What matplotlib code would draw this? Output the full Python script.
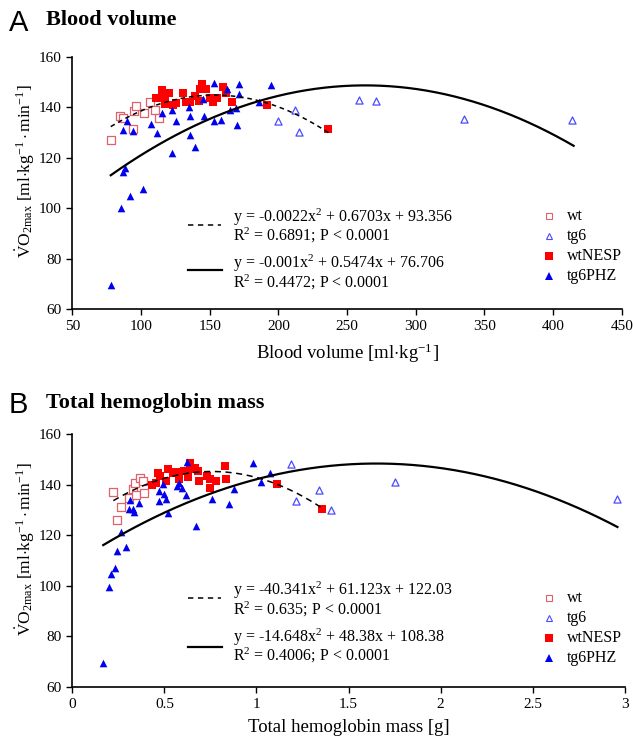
import numpy as np
import matplotlib
matplotlib.use("Agg")
import matplotlib.pyplot as plt
from matplotlib.lines import Line2D

plt.rcParams['font.family'] = ['Liberation Serif', 'DejaVu Serif']
plt.rcParams['mathtext.fontset'] = 'custom'
plt.rcParams['mathtext.rm'] = 'Liberation Serif'
plt.rcParams['mathtext.it'] = 'Liberation Serif:italic'
plt.rcParams['mathtext.bf'] = 'Liberation Serif:bold'

# ---- Panel A: blood volume [ml/kg] vs VO2max ----
wt_bv = [78, 85, 87, 95, 96.5, 94, 102, 106.5, 110, 113]
wt_vo_a = [127, 136.4, 135.7, 138.7, 140.5, 131.4, 137.8, 142, 138.9, 135.8]

tg6_bv = [200, 212, 215, 259, 271, 335, 414]
tg6_vo_a = [134.7, 138.9, 130.1, 142.8, 142.5, 135.4, 135]

wtnesp_bv = [115.5, 111, 114, 117.5, 120.5, 117.5, 123, 125.5, 130.5, 133, 136, 139,
             142, 143, 144.5, 147, 150, 152.5, 155.5, 159.5, 162, 166.5, 191.5, 236.5]
wtnesp_vo_a = [147, 143.9, 143.9, 144.6, 145.6, 141.2, 141.1, 141.7, 145.9, 142.2, 142.2, 144.6,
               142.6, 147.2, 149.1, 147.2, 143.9, 142.2, 143.9, 147.9, 145.9, 142.2, 140.9, 131.4]

tg6phz_bv = [78, 85.5, 92, 101.5, 87, 88.5, 87, 89.5, 94, 107, 112, 115.5, 122.5, 122.5, 125.5, 135,
             135.5, 135.5, 139, 145, 146, 153.5, 153.5, 158, 162.5, 164.5, 169.5, 170, 171.5, 171.5,
             186, 195]
tg6phz_vo_a = [69.7, 100.2, 104.8, 107.5, 114.4, 115.9, 131.2, 134.5, 130.5, 133.3, 129.9, 137.8,
               138.9, 122, 134.7, 140, 136.7, 129.2, 124.2, 143.5, 136.4, 149.6, 134.7, 135, 147.5,
               138.9, 139.9, 133, 149.2, 145.4, 142, 148.8]

# quadratic trendlines (a, b, c) and their x ranges
fit_a_wt = [-0.00218, 0.6703, 93.356]
fit_a_wt_range = [78, 237]
fit_a_tg = [-0.00104, 0.5474, 76.706]
fit_a_tg_range = [78, 415]
eq_a = ["y = -0.0022x$^2$ + 0.6703x + 93.356\nR$^2$ = 0.6891; P < 0.0001",
        "y = -0.001x$^2$ + 0.5474x + 76.706\nR$^2$ = 0.4472; P < 0.0001"]

# ---- Panel B: total hemoglobin mass [g] vs VO2max ----
wt_hb = [0.223, 0.245, 0.263, 0.308, 0.328, 0.343, 0.346, 0.365, 0.383, 0.39]
wt_vo_b = [137, 126.1, 131.1, 134.6, 138.2, 140.5, 135.8, 142.5, 141.3, 136.6]

tg6_hb = [1.186, 1.213, 1.337, 1.404, 1.754, 2.957]
tg6_vo_b = [148.2, 133.7, 138, 130.1, 141.1, 134.5]

wtnesp_hb = [0.435, 0.454, 0.463, 0.477, 0.51, 0.521, 0.546, 0.564, 0.577, 0.604, 0.628, 0.637,
             0.641, 0.668, 0.681, 0.686, 0.732, 0.746, 0.75, 0.782, 0.828, 0.837, 1.113, 1.358]
wtnesp_vo_b = [139.9, 140.5, 144.5, 143.5, 141.4, 146.1, 144.5, 145.1, 142.2, 145.4, 142.9, 148.4,
               146.2, 146.7, 145.5, 141.6, 143.4, 138.8, 142.1, 141.6, 147.5, 142.4, 140.3, 130.3]

tg6phz_hb = [0.168, 0.201, 0.209, 0.234, 0.245, 0.266, 0.292, 0.31, 0.314, 0.328, 0.337, 0.361,
             0.47, 0.472, 0.49, 0.499, 0.508, 0.517, 0.568, 0.582, 0.597, 0.619, 0.623, 0.67,
             0.759, 0.85, 0.877, 0.98, 1.026, 1.071]
tg6phz_vo_b = [69.5, 99.5, 104.6, 107.2, 113.9, 121.2, 115.5, 130.3, 134, 130.4, 129.1, 132.9,
               137.5, 133.7, 140.3, 136.2, 134.2, 128.7, 139.5, 140.5, 138.6, 135.9, 149.1, 123.7,
               134.3, 132.4, 138.4, 148.7, 140.9, 144.5]

fit_b_wt = [-40.341, 61.123, 122.03]
fit_b_wt_range = [0.223, 1.363]
fit_b_tg = [-14.648, 48.38, 108.38]
fit_b_tg_range = [0.168, 2.96]
eq_b = ["y = -40.341x$^2$ + 61.123x + 122.03\nR$^2$ = 0.635; P < 0.0001",
        "y = -14.648x$^2$ + 48.38x + 108.38\nR$^2$ = 0.4006; P < 0.0001"]

groups = ["wt", "tg6", "wtNESP", "tg6PHZ"]

W, H = 633, 746
fig = plt.figure(figsize=(W / 100, H / 100), dpi=100)

PINK = '#e0606c'
LBLUE = '#4a4aff'
RED = '#ff0000'
BLUE = '#0000ee'


def fx(px):
    return px / W


def fy(py):
    return 1 - py / H


def style_axes(ax, xlim, xticks, xticklabels, xlabel):
    for s in ['top', 'right']:
        ax.spines[s].set_visible(False)
    for s in ['left', 'bottom']:
        ax.spines[s].set_linewidth(1.2)
    ax.set_xlim(*xlim)
    ax.set_ylim(60, 160)
    ax.set_xticks(xticks)
    ax.set_xticklabels(xticklabels)
    ax.set_yticks([60, 80, 100, 120, 140, 160])
    ax.tick_params(direction='out', length=4, width=1, labelsize=11, pad=4)
    ax.set_xlabel(xlabel, fontsize=13.5, labelpad=6)
    ax.set_ylabel(r'$\dot{\mathrm{V}}\mathrm{O}_{2\mathrm{max}}$ [ml$\cdot$kg$^{-1}\cdot$min$^{-1}$]',
                  fontsize=12.5)
    ax.yaxis.set_label_coords(-0.064, 0.545)


def draw_panel(ax, data, fits, eqs, eq_rows, leg_top):
    (wx, wy), (tx, ty), (nx, ny), (px_, py_) = data
    ax.scatter(wx, wy, marker='s', s=26, facecolors='white', edgecolors=PINK, linewidths=0.9, zorder=3)
    ax.scatter(tx, ty, marker='^', s=26, facecolors='white', edgecolors=LBLUE, linewidths=0.9, zorder=3)
    ax.scatter(nx, ny, marker='s', s=30, color=RED, linewidths=0, zorder=4)
    ax.scatter(px_, py_, marker='^', s=30, color=BLUE, linewidths=0, zorder=4)
    (c1, r1, ls1), (c2, r2, ls2) = fits
    xs = np.linspace(r1[0], r1[1], 200)
    ax.plot(xs, np.polyval(c1, xs), color='black', lw=1.1, linestyle=ls1, zorder=5)
    xs = np.linspace(r2[0], r2[1], 300)
    ax.plot(xs, np.polyval(c2, xs), color='black', lw=1.6, zorder=5)

    # equation block: two-line text per fit, with a line sample to the left
    t1, t2, yd, ys = eq_rows
    fig.text(fx(233), fy(t1), eqs[0], fontsize=11.5, va='center', linespacing=0.9)
    fig.text(fx(233), fy(t2), eqs[1], fontsize=11.5, va='center', linespacing=0.9)
    fig.add_artist(Line2D([fx(188), fx(221)], [fy(yd)] * 2, color='black', lw=1.1,
                          linestyle=(0, (3.5, 3)), transform=fig.transFigure))
    fig.add_artist(Line2D([fx(188), fx(222)], [fy(ys)] * 2, color='black', lw=1.6,
                          transform=fig.transFigure))

    # group key
    styles = [dict(marker='s', mfc='white', mec=PINK, ms=5, mew=0.8),
              dict(marker='^', mfc='white', mec=LBLUE, ms=5, mew=0.8),
              dict(marker='s', mfc=RED, mec=RED, ms=6, mew=0),
              dict(marker='^', mfc=BLUE, mec=BLUE, ms=6, mew=0)]
    for i, (g, st) in enumerate(zip(groups, styles)):
        yy = fy(leg_top + i * 20)
        fig.add_artist(Line2D([fx(549)], [yy], linestyle='none', transform=fig.transFigure, **st))
        fig.text(fx(567), yy, g, fontsize=11.5, va='center')


# Panel A
axA = fig.add_axes([fx(72.3), fy(309), fx(621.7) - fx(72.3), fy(57) - fy(309)])
style_axes(axA, (50, 450), list(range(50, 451, 50)), [str(v) for v in range(50, 451, 50)],
           r'Blood volume [ml$\cdot$kg$^{-1}$]')
draw_panel(axA,
           [(wt_bv, wt_vo_a), (tg6_bv, tg6_vo_a), (wtnesp_bv, wtnesp_vo_a), (tg6phz_bv, tg6phz_vo_a)],
           [(fit_a_wt, fit_a_wt_range, (0, (3, 2.5))), (fit_a_tg, fit_a_tg_range, '-')],
           eq_a, [226, 272.5, 225, 270], 216)
fig.text(fx(9), fy(23), 'A', fontsize=21, family='Liberation Sans', va='center')
fig.text(fx(46), fy(20), 'Blood volume', fontsize=16, fontweight='bold', va='center')

# Panel B
axB = fig.add_axes([fx(72.3), fy(687), fx(624.8) - fx(72.3), fy(434) - fy(687)])
style_axes(axB, (0, 3), [0, 0.5, 1, 1.5, 2, 2.5, 3], ['0', '0.5', '1', '1.5', '2', '2.5', '3'],
           'Total hemoglobin mass [g]')
draw_panel(axB,
           [(wt_hb, wt_vo_b), (tg6_hb, tg6_vo_b), (wtnesp_hb, wtnesp_vo_b), (tg6phz_hb, tg6phz_vo_b)],
           [(fit_b_wt, fit_b_wt_range, (0, (4, 3))), (fit_b_tg, fit_b_tg_range, '-')],
           eq_b, [599.5, 646, 598, 647], 598)
fig.text(fx(9), fy(405), 'B', fontsize=21, family='Liberation Sans', va='center')
fig.text(fx(46), fy(403), 'Total hemoglobin mass', fontsize=16, fontweight='bold', va='center')

fig.savefig('out.png', dpi=100)
